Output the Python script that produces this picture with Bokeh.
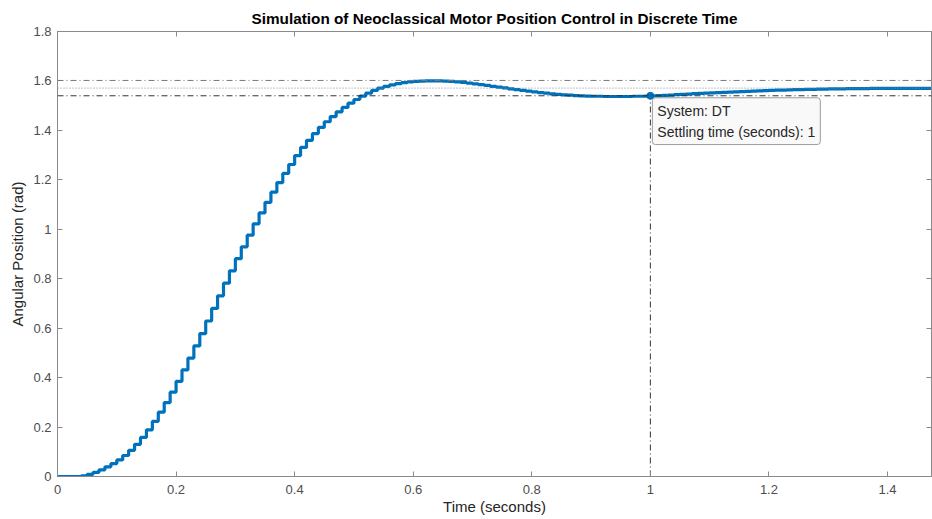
from bokeh.plotting import figure
from bokeh.models import Span, Label, LinearAxis, FixedTicker, ColumnDataSource
from bokeh.embed import file_html
from bokeh.resources import INLINE

# ---- data ----
Ts = 0.01  # sample time (s)
response = [
    0.000, 0.000, 0.000, 0.000, 0.003, 0.009, 0.017, 0.027, 0.039, 0.052,
    0.067, 0.085, 0.106, 0.130, 0.158, 0.189, 0.223, 0.260, 0.299, 0.341,
    0.385, 0.431, 0.479, 0.528, 0.578, 0.629, 0.680, 0.731, 0.782, 0.832,
    0.881, 0.929, 0.976, 1.022, 1.066, 1.109, 1.150, 1.189, 1.226, 1.262,
    1.298, 1.331, 1.360, 1.387, 1.412, 1.435, 1.456, 1.475, 1.493, 1.510,
    1.525, 1.539, 1.551, 1.562, 1.571, 1.578, 1.584, 1.589, 1.593, 1.596,
    1.598, 1.599, 1.600, 1.600, 1.600, 1.599, 1.598, 1.596, 1.594, 1.591,
    1.588, 1.585, 1.582, 1.578, 1.575, 1.572, 1.568, 1.565, 1.562, 1.559,
    1.556, 1.553, 1.551, 1.548, 1.546, 1.544, 1.543, 1.541, 1.540, 1.539,
    1.538, 1.538, 1.537, 1.537, 1.537, 1.537, 1.537, 1.538, 1.538, 1.539,
    1.540, 1.541, 1.542, 1.543, 1.545, 1.546, 1.547, 1.549, 1.550, 1.551,
    1.552, 1.553, 1.554, 1.555, 1.556, 1.557, 1.558, 1.559, 1.560, 1.561,
    1.562, 1.563, 1.563, 1.564, 1.565, 1.565, 1.566, 1.566, 1.567, 1.567,
    1.568, 1.568, 1.568, 1.569, 1.569, 1.569, 1.569, 1.570, 1.570, 1.570,
    1.570, 1.570, 1.570, 1.570, 1.570, 1.570, 1.570, 1.570, 1.570,
]
final_value = 1.571
settle_upper = 1.602
settle_lower = 1.540
settling_time = 1.0
settling_value = 1.540

x_ticks = [0, 0.2, 0.4, 0.6, 0.8, 1, 1.2, 1.4]
x_tick_labels = ["0", "0.2", "0.4", "0.6", "0.8", "1", "1.2", "1.4"]
y_ticks = [0, 0.2, 0.4, 0.6, 0.8, 1, 1.2, 1.4, 1.6, 1.8]
y_tick_labels = ["0", "0.2", "0.4", "0.6", "0.8", "1", "1.2", "1.4", "1.6", "1.8"]

title_text = "Simulation of Neoclassical Motor Position Control in Discrete Time"
x_label = "Time (seconds)"
y_label = "Angular Position (rad)"
tip_text = "System: DT\nSettling time (seconds): 1"

time = [round(i * Ts, 2) for i in range(len(response))]

FONT = "Liberation Sans"
BLUE = "#0072BD"
AXC = "#8a8a8a"
TXT = "#4d4d4d"

p = figure(width=932, height=519, x_range=(0, 1.4742), y_range=(0, 1.8),
           output_backend="svg", toolbar_location=None,
           min_border_left=57, min_border_right=1, min_border_top=31, min_border_bottom=43,
           background_fill_color="white", border_fill_color="white")

p.title.text = title_text
p.title.align = "center"
p.title.text_font = FONT
p.title.text_font_size = "15.3px"
p.title.text_font_style = "bold"
p.title.text_color = "#000000"
p.title.offset = 0

p.grid.visible = False
p.outline_line_color = AXC

def style_axis(ax, show_labels):
    ax.axis_line_color = AXC
    ax.major_tick_line_color = AXC
    ax.minor_tick_line_color = None
    ax.major_tick_in = 5
    ax.major_tick_out = 0
    ax.major_label_text_font = FONT
    ax.major_label_text_color = TXT
    if show_labels:
        ax.major_label_text_font_size = "13px"
    else:
        ax.major_label_text_font_size = "0px"
        ax.major_label_text_color = None
        ax.major_label_text_alpha = 0
        ax.major_label_standoff = 0

xa = p.xaxis[0]
ya = p.yaxis[0]
xa.ticker = FixedTicker(ticks=x_ticks)
ya.ticker = FixedTicker(ticks=y_ticks)
xa.major_label_overrides = {t: s for t, s in zip(x_ticks, x_tick_labels)}
ya.major_label_overrides = {t: s for t, s in zip(y_ticks, y_tick_labels)}
style_axis(xa, True)
style_axis(ya, True)
xa.major_label_standoff = 8
ya.major_label_standoff = 6
xa.axis_label = x_label
ya.axis_label = y_label
for ax in (xa, ya):
    ax.axis_label_text_font = FONT
    ax.axis_label_text_font_size = "15px"
    ax.axis_label_text_font_style = "normal"
    ax.axis_label_text_color = "#262626"
xa.axis_label_standoff = 1
ya.axis_label_standoff = 4

top_ax = LinearAxis(ticker=FixedTicker(ticks=x_ticks))
right_ax = LinearAxis(ticker=FixedTicker(ticks=y_ticks))
style_axis(top_ax, False)
style_axis(right_ax, False)
p.add_layout(top_ax, "above")
p.add_layout(right_ax, "right")

# settling bounds and final value
p.add_layout(Span(location=settle_upper, dimension="width", line_color="#777777",
                  line_width=1, line_dash="6 3 1 3"))
p.add_layout(Span(location=final_value, dimension="width", line_color="#8a8a8a",
                  line_width=1, line_dash="1 2"))
p.add_layout(Span(location=settle_lower, dimension="width", line_color="#333333",
                  line_width=1, line_dash="6 3 1 3"))

# vertical settling time marker line
src_v = ColumnDataSource(dict(x0=[settling_time], y0=[0], x1=[settling_time], y1=[settling_value]))
p.segment(x0="x0", y0="y0", x1="x1", y1="y1", source=src_v, line_color="#333333",
          line_width=1, line_dash="6 3 1 3")

# response
p.step(time, response, mode="after", line_color=BLUE, line_width=3.2)

# settling point marker
p.scatter([settling_time], [settling_value], size=7, color=BLUE)

tip = Label(x=settling_time, y=settling_value, x_offset=2, y_offset=-2,
            text=tip_text, anchor="top_left", text_font=FONT, text_font_size="14px",
            text_color="#262626", text_line_height=1.3,
            background_fill_color="#f9f9f9", border_line_color="#9a9a9a",
            padding=5, border_radius=3)
p.add_layout(tip)

open("out.html", "w").write(file_html(p, INLINE))
